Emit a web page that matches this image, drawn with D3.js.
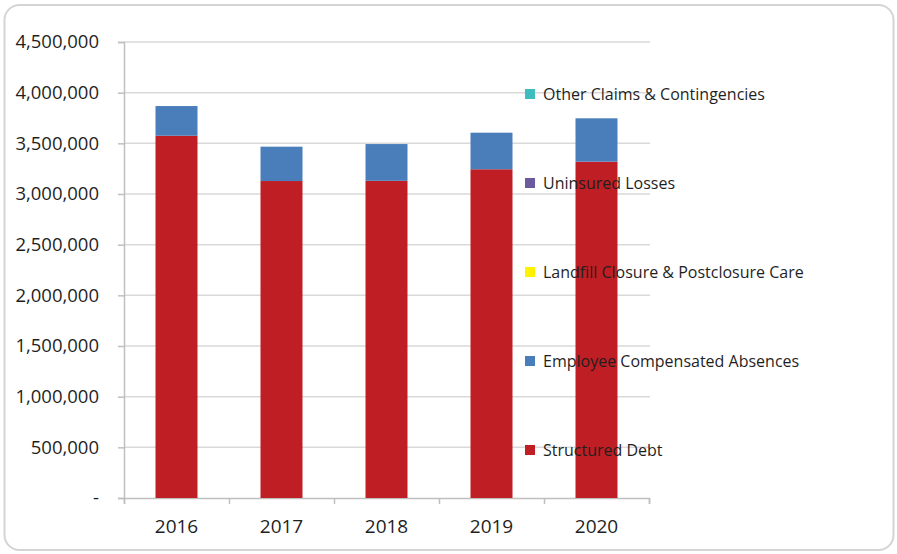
<!DOCTYPE html>
<html>
<head>
<meta charset="utf-8">
<script src="https://cdn.jsdelivr.net/npm/d3@7"></script>
<style>
  body { margin: 0; background: #fff; }
  text { font-family: "Open Sans", "Liberation Sans", sans-serif; fill: #1f1f1f; }
</style>
</head>
<body>
<svg id="chart" width="897" height="554"></svg>
<script>
// data
const years = ["2016", "2017", "2018", "2019", "2020"];
const seriesNames = [
  "Structured Debt",
  "Employee Compensated Absences",
  "Landfill Closure & Postclosure Care",
  "Uninsured Losses",
  "Other Claims & Contingencies"
];
const structuredDebt = [3575000, 3128000, 3130000, 3244000, 3319000];
const compensatedAbsences = [293000, 339000, 363000, 361000, 428000];
const landfillCare = [0, 0, 0, 0, 0];
const uninsuredLosses = [0, 0, 0, 0, 0];
const otherClaims = [0, 0, 0, 0, 0];
const yTicks = [0, 500000, 1000000, 1500000, 2000000, 2500000, 3000000, 3500000, 4000000, 4500000];

const colors = ["#BF1E24", "#4A7EBB", "#FFF200", "#6B5B9E", "#3DBDBE"];

const rows = years.map((y, i) => ({
  year: y,
  "Structured Debt": structuredDebt[i],
  "Employee Compensated Absences": compensatedAbsences[i],
  "Landfill Closure & Postclosure Care": landfillCare[i],
  "Uninsured Losses": uninsuredLosses[i],
  "Other Claims & Contingencies": otherClaims[i]
}));

const svg = d3.select("#chart");

// outer panel
svg.append("rect")
  .attr("x", 4.5).attr("y", 5)
  .attr("width", 889).attr("height", 545)
  .attr("rx", 15)
  .attr("fill", "#fff")
  .attr("stroke", "#d4d4d4")
  .attr("stroke-width", 2);

const plot = { left: 124, right: 649, top: 42, bottom: 498 };

const x = d3.scaleBand()
  .domain(years)
  .range([plot.left, plot.right])
  .paddingInner(0.6)
  .paddingOuter(0.3);

const xEdges = d3.scaleLinear().domain([0, years.length]).range([plot.left, plot.right]);

const y = d3.scaleLinear()
  .domain([0, 4500000])
  .range([plot.bottom, plot.top]);

const color = d3.scaleOrdinal().domain(seriesNames).range(colors);

// gridlines
svg.append("g")
  .selectAll("line")
  .data(yTicks.slice(1))
  .join("line")
  .attr("x1", plot.left)
  .attr("x2", plot.right + 1)
  .attr("y1", d => y(d))
  .attr("y2", d => y(d))
  .attr("stroke", "#d9d9d9")
  .attr("stroke-width", 1.5);

// y axis
const yAxis = svg.append("g")
  .attr("transform", `translate(${plot.left},0)`)
  .call(d3.axisLeft(y)
    .tickValues(yTicks)
    .tickSize(6)
    .tickPadding(19)
    .tickFormat(d => d === 0 ? "-" : d3.format(",")(d)));
yAxis.select(".domain").attr("stroke", "#bfbfbf").attr("stroke-width", 1.5);
yAxis.selectAll(".tick line").attr("stroke", "#bfbfbf").attr("stroke-width", 1.5);
yAxis.selectAll(".tick text")
  .attr("font-size", 18.5)
  .attr("font-family", null)
  .attr("fill", "#1f1f1f");

// x axis: boundary ticks
const xAxis = svg.append("g")
  .attr("transform", `translate(0,${plot.bottom})`)
  .call(d3.axisBottom(xEdges).tickValues(d3.range(years.length + 1)).tickSize(6).tickFormat(""));
xAxis.select(".domain").attr("stroke", "#bfbfbf").attr("stroke-width", 1.5);
xAxis.selectAll(".tick line").attr("stroke", "#bfbfbf").attr("stroke-width", 1.5);

// x labels
const xLabels = svg.append("g")
  .attr("transform", `translate(0,${plot.bottom})`)
  .call(d3.axisBottom(x).tickSize(0).tickPadding(22));
xLabels.select(".domain").remove();
xLabels.selectAll(".tick text")
  .attr("font-size", 19)
  .attr("font-family", null)
  .attr("fill", "#1f1f1f");

// stacked bars
const stacked = d3.stack().keys(seriesNames)(rows);

svg.append("g")
  .selectAll("g")
  .data(stacked)
  .join("g")
  .attr("fill", d => color(d.key))
  .selectAll("rect")
  .data(d => d)
  .join("rect")
  .attr("x", d => x(d.data.year))
  .attr("width", x.bandwidth())
  .attr("y", d => y(d[1]))
  .attr("height", d => y(d[0]) - y(d[1]));

// legend, top entry is the last series
const legendY = d3.scalePoint()
  .domain(seriesNames.slice().reverse())
  .range([94, 450]);

const legend = svg.append("g")
  .selectAll("g")
  .data(seriesNames)
  .join("g")
  .attr("transform", d => `translate(525,${legendY(d)})`);

legend.append("rect")
  .attr("x", 0).attr("y", -5)
  .attr("width", 10).attr("height", 10)
  .attr("fill", d => color(d));

legend.append("text")
  .attr("x", 18)
  .attr("y", 0)
  .attr("dy", "0.35em")
  .attr("font-size", 16)
  .text(d => d);
</script>
</body>
</html>
